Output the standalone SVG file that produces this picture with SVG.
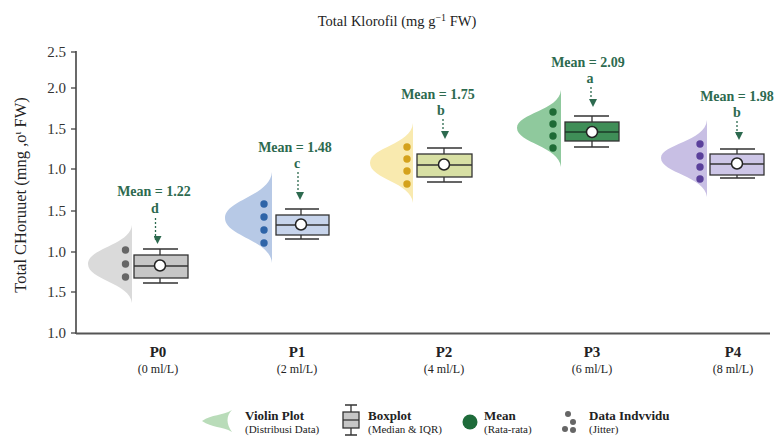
<svg xmlns="http://www.w3.org/2000/svg" width="774" height="437" viewBox="0 0 774 437">
<style>
text{font-family:"Liberation Serif","DejaVu Serif",serif;fill:#222}
.tick{font-size:15px;text-anchor:end;fill:#333}
.mean{font-size:14px;font-weight:bold;fill:#2d6a4f;text-anchor:middle}
.grp{font-size:15px;font-weight:bold;text-anchor:middle}
.sub{font-size:12px;text-anchor:middle}
.lgb{font-size:13px;font-weight:bold}
.lgs{font-size:11px}
.box{stroke:#333;stroke-width:1.3}
.wh{stroke:#333;stroke-width:1.3;fill:none}
.arr{stroke:#2d6a4f;stroke-width:1.3;stroke-dasharray:2 2;fill:none}
.mc{fill:#fff;stroke:#222;stroke-width:1.5}
</style>
<defs>
<marker id="ah" markerWidth="8" markerHeight="8" refX="4" refY="6" orient="auto" markerUnits="userSpaceOnUse" viewBox="0 0 8 8">
<path d="M0,0 L8,0 L4,8 Z" fill="#2d6a4f" transform="rotate(-90 4 4)"/>
</marker>
</defs>
<rect width="774" height="437" fill="#fff"/>
<text x="397" y="26" font-size="14.5" text-anchor="middle">Total Klorofil (mg g<tspan dy="-5" font-size="10">−1</tspan><tspan dy="5"> FW)</tspan></text>
<g id="axes">
<line x1="76" y1="51" x2="76" y2="334" stroke="#444" stroke-width="1.6"/>
<line x1="76" y1="333.5" x2="770" y2="333.5" stroke="#555" stroke-width="1.8"/>
<g stroke="#444" stroke-width="1.3">
<line x1="71" y1="52" x2="76" y2="52"/><line x1="71" y1="88" x2="76" y2="88"/><line x1="71" y1="129" x2="76" y2="129"/><line x1="71" y1="169" x2="76" y2="169"/><line x1="71" y1="211" x2="76" y2="211"/><line x1="71" y1="252" x2="76" y2="252"/><line x1="71" y1="292" x2="76" y2="292"/><line x1="71" y1="333" x2="76" y2="333"/>
</g>
<text class="tick" x="66" y="57">2.5</text><text class="tick" x="66" y="93">2.0</text><text class="tick" x="66" y="134">1.5</text><text class="tick" x="66" y="174">1.0</text><text class="tick" x="66" y="216">1.5</text><text class="tick" x="66" y="257">1.0</text><text class="tick" x="66" y="297">1.5</text><text class="tick" x="66" y="338">1.0</text>
<text transform="translate(26,195) rotate(-90)" font-size="16.5" text-anchor="middle">Total CHoruuet (mng ,ο<tspan dy="-5" font-size="10">ι</tspan><tspan dy="5"> FW)</tspan></text>
</g>
<g id="P0">
<path d="M132,225 C130,245 88,248 88,264 C88,280 130,283 132,303 Z" fill="#dadada"/>
<g fill="#666"><circle cx="125.5" cy="250" r="3.7"/><circle cx="125.5" cy="264" r="3.7"/><circle cx="125.5" cy="277" r="3.7"/></g>
<path class="wh" d="M160,249 V283 M143,249 H178 M143,283 H178"/>
<rect class="box" x="134" y="255" width="54" height="23" fill="#c6c6c6"/>
<line class="wh" x1="134" y1="266" x2="188" y2="266"/>
<circle class="mc" cx="160" cy="265.5" r="5.5"/>
<text class="mean" x="154" y="196">Mean = 1.22</text><text class="mean" x="155" y="213">d</text>
<line class="arr" x1="155.5" y1="218" x2="155.5" y2="240" marker-end="url(#ah)"/>
<text class="grp" x="158" y="357">P0</text><text class="sub" x="158" y="373">(0 ml/L)</text>
</g>
<g id="P1">
<path d="M272,172 C270,196 225,200 225,218 C225,236 270,240 272,263 Z" fill="#b7c9e6"/>
<g fill="#2e64a8"><circle cx="264" cy="204" r="3.7"/><circle cx="264" cy="217" r="3.7"/><circle cx="264" cy="230" r="3.7"/><circle cx="264" cy="243" r="3.7"/></g>
<path class="wh" d="M301,209 V239 M285,209 H319 M285,239 H319"/>
<rect class="box" x="276" y="215" width="53" height="20" fill="#c7d4eb"/>
<line class="wh" x1="276" y1="225" x2="329" y2="225"/>
<circle class="mc" cx="301" cy="224.5" r="5.5"/>
<text class="mean" x="295" y="152">Mean = 1.48</text><text class="mean" x="297" y="168">c</text>
<line class="arr" x1="298" y1="172" x2="298" y2="196" marker-end="url(#ah)"/>
<text class="grp" x="297" y="357">P1</text><text class="sub" x="297" y="373">(2 ml/L)</text>
</g>
<g id="P2">
<path d="M413,123 C411,145 370,147 370,163 C370,179 411,182 413,203 Z" fill="#f9eaaf"/>
<g fill="#d4a21c"><circle cx="407" cy="147" r="3.7"/><circle cx="407" cy="159" r="3.7"/><circle cx="407" cy="171" r="3.7"/><circle cx="407" cy="184" r="3.7"/></g>
<path class="wh" d="M444,148 V182 M427,148 H462 M427,182 H462"/>
<rect class="box" x="417" y="154" width="55" height="23" fill="#d8e0a4"/>
<line class="wh" x1="417" y1="165" x2="472" y2="165"/>
<circle class="mc" cx="444" cy="164.5" r="5.5"/>
<text class="mean" x="438" y="99">Mean = 1.75</text><text class="mean" x="441" y="115">b</text>
<line class="arr" x1="443" y1="119" x2="443" y2="135" marker-end="url(#ah)"/>
<text class="grp" x="444" y="357">P2</text><text class="sub" x="444" y="373">(4 ml/L)</text>
</g>
<g id="P3">
<path d="M561,90 C559,111 517,113 517,128 C517,143 559,146 561,167 Z" fill="#8fc99d"/>
<g fill="#1f6b36"><circle cx="553" cy="112" r="3.7"/><circle cx="553" cy="124" r="3.7"/><circle cx="553" cy="136" r="3.7"/><circle cx="553" cy="148" r="3.7"/></g>
<path class="wh" d="M592,116 V147 M574,116 H609 M574,147 H609"/>
<rect class="box" x="565" y="122" width="54" height="19" fill="#3f8e57" stroke="#1d3b27"/>
<line x1="565" y1="132" x2="619" y2="132" stroke="#1d3b27" stroke-width="1.3"/>
<circle class="mc" cx="592" cy="132" r="5.5"/>
<text class="mean" x="588" y="67">Mean = 2.09</text><text class="mean" x="590" y="83">a</text>
<line class="arr" x1="591" y1="87" x2="591" y2="103" marker-end="url(#ah)"/>
<text class="grp" x="592" y="357">P3</text><text class="sub" x="592" y="373">(6 ml/L)</text>
</g>
<g id="P4">
<path d="M707,120 C705,142 661,144 661,158 C661,173 705,176 707,197 Z" fill="#c8bfe4"/>
<g fill="#5a409b"><circle cx="700" cy="144" r="3.7"/><circle cx="700" cy="156" r="3.7"/><circle cx="700" cy="167" r="3.7"/><circle cx="700" cy="179" r="3.7"/></g>
<path class="wh" d="M737,149 V178 M720,149 H755 M720,178 H755"/>
<rect class="box" x="710" y="154" width="54" height="21" fill="#cdc6e7"/>
<line class="wh" x1="710" y1="164" x2="764" y2="164"/>
<circle class="mc" cx="737" cy="163.5" r="5.5"/>
<text class="mean" x="737" y="101">Mean = 1.98</text><text class="mean" x="737" y="117">b</text>
<line class="arr" x1="737" y1="121" x2="737" y2="136" marker-end="url(#ah)"/>
<text class="grp" x="733" y="357">P4</text><text class="sub" x="733" y="373">(8 ml/L)</text>
</g>
<g id="legend">
<path d="M232,410 C226,416 226,424 232,432 C222,426 212,428 202,421 C212,414 222,416 232,410 Z" fill="#b9dcb9"/>
<text class="lgb" x="245" y="420">Violin Plot</text><text class="lgs" x="245" y="433">(Distribusi Data)</text>
<path class="wh" d="M351,405 V435 M345,405 H357 M345,435 H357"/>
<rect class="box" x="343" y="412" width="16" height="16" fill="#c6c6c6"/>
<line class="wh" x1="343" y1="420" x2="359" y2="420"/>
<text class="lgb" x="368" y="420">Boxplot</text><text class="lgs" x="368" y="433">(Median &amp; IQR)</text>
<circle cx="470" cy="422" r="7.5" fill="#1e6b3a"/>
<text class="lgb" x="484" y="420">Mean</text><text class="lgs" x="484" y="433">(Rata-rata)</text>
<g fill="#666"><circle cx="568" cy="414" r="3"/><circle cx="573" cy="422" r="3"/><circle cx="565" cy="429" r="3"/><circle cx="573" cy="430" r="3"/></g>
<text class="lgb" x="589" y="420">Data Indvvidu</text><text class="lgs" x="589" y="433">(Jitter)</text>
</g>
</svg>
